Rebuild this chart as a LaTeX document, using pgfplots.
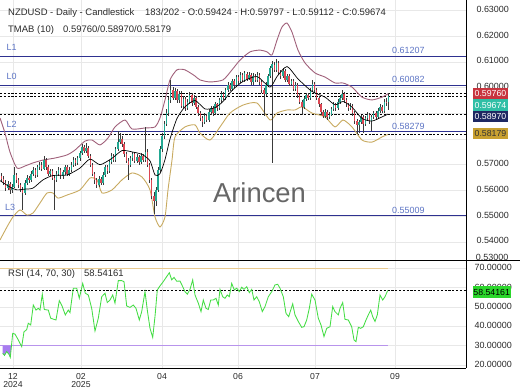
\documentclass[border=0pt]{standalone}
\usepackage{pgfplots}
\pgfplotsset{compat=1.18}
\usepackage{pgfplotstable}
\usepackage{fontspec}
\setmainfont{Liberation Sans}
\definecolor{upc}{HTML}{22A892}
\definecolor{dnc}{HTML}{DC4652}
\definecolor{wick}{HTML}{3A3A3A}
\definecolor{upband}{HTML}{A0607A}
\definecolor{loband}{HTML}{C8AA60}
\definecolor{lvl}{HTML}{2E3190}
\definecolor{lvltxt}{HTML}{5B73C4}
\definecolor{gridc}{HTML}{E8E8E8}
\definecolor{txt}{HTML}{2A2A2A}
\definecolor{boxred}{HTML}{C8343E}
\definecolor{boxteal}{HTML}{30BFA6}
\definecolor{boxnavy}{HTML}{1E2862}
\definecolor{boxgold}{HTML}{C8A030}
\definecolor{rsig}{HTML}{44DD44}
\definecolor{rsibox}{HTML}{2BD62B}
\definecolor{ob}{HTML}{EACB90}
\definecolor{os}{HTML}{B894EC}
\definecolor{osfill}{HTML}{A77CF0}
\newcommand\fs[1]{\fontsize{#1}{#1}\selectfont}

\pgfplotstableread{
i o h l c
0 0.5655 0.5668 0.5632 0.5645
1 0.5645 0.5655 0.5620 0.5630
2 0.5630 0.5640 0.5598 0.5610
3 0.5610 0.5636 0.5600 0.5625
4 0.5625 0.5633 0.5588 0.5600
5 0.5600 0.5625 0.5590 0.5615
6 0.5615 0.5690 0.5608 0.5660
7 0.5660 0.5668 0.5630 0.5640
8 0.5640 0.5648 0.5610 0.5620
9 0.5620 0.5630 0.5595 0.5605
10 0.5605 0.5615 0.5525 0.5590
11 0.5590 0.5640 0.5582 0.5630
12 0.5630 0.5660 0.5622 0.5650
13 0.5650 0.5658 0.5630 0.5640
14 0.5640 0.5675 0.5632 0.5665
15 0.5665 0.5690 0.5655 0.5680
16 0.5680 0.5688 0.5650 0.5660
17 0.5660 0.5700 0.5652 0.5690
18 0.5690 0.5712 0.5680 0.5700
19 0.5700 0.5710 0.5675 0.5685
20 0.5685 0.5735 0.5678 0.5720
21 0.5720 0.5728 0.5680 0.5690
22 0.5690 0.5698 0.5655 0.5665
23 0.5665 0.5685 0.5655 0.5675
24 0.5675 0.5682 0.5640 0.5650
25 0.5650 0.5660 0.5525 0.5640
26 0.5640 0.5675 0.5632 0.5665
27 0.5665 0.5692 0.5655 0.5680
28 0.5680 0.5688 0.5645 0.5655
29 0.5655 0.5680 0.5645 0.5670
30 0.5670 0.5700 0.5660 0.5690
31 0.5690 0.5698 0.5655 0.5665
32 0.5665 0.5690 0.5655 0.5680
33 0.5680 0.5710 0.5672 0.5700
34 0.5700 0.5730 0.5692 0.5720
35 0.5720 0.5728 0.5695 0.5705
36 0.5705 0.5735 0.5698 0.5725
37 0.5725 0.5755 0.5715 0.5745
38 0.5745 0.5780 0.5738 0.5770
39 0.5770 0.5778 0.5745 0.5755
40 0.5755 0.5785 0.5745 0.5765
41 0.5765 0.5772 0.5725 0.5735
42 0.5735 0.5742 0.5690 0.5700
43 0.5700 0.5708 0.5655 0.5665
44 0.5665 0.5672 0.5625 0.5640
45 0.5640 0.5650 0.5608 0.5620
46 0.5620 0.5655 0.5612 0.5645
47 0.5645 0.5652 0.5620 0.5630
48 0.5630 0.5670 0.5622 0.5660
49 0.5660 0.5700 0.5652 0.5690
50 0.5690 0.5698 0.5665 0.5675
51 0.5675 0.5720 0.5668 0.5710
52 0.5710 0.5745 0.5702 0.5735
53 0.5735 0.5742 0.5710 0.5720
54 0.5720 0.5770 0.5712 0.5760
55 0.5760 0.5830 0.5752 0.5790
56 0.5790 0.5825 0.5780 0.5800
57 0.5800 0.5810 0.5770 0.5780
58 0.5780 0.5788 0.5730 0.5740
59 0.5740 0.5748 0.5705 0.5715
60 0.5715 0.5725 0.5640 0.5700
61 0.5700 0.5735 0.5692 0.5725
62 0.5725 0.5750 0.5715 0.5740
63 0.5740 0.5748 0.5705 0.5715
64 0.5715 0.5740 0.5705 0.5730
65 0.5730 0.5738 0.5700 0.5710
66 0.5710 0.5745 0.5702 0.5735
67 0.5735 0.5742 0.5710 0.5720
68 0.5720 0.5845 0.5712 0.5750
69 0.5750 0.5760 0.5690 0.5700
70 0.5700 0.5708 0.5630 0.5640
71 0.5640 0.5648 0.5565 0.5580
72 0.5580 0.5592 0.5510 0.5560
73 0.5560 0.5612 0.5540 0.5600
74 0.5600 0.5690 0.5592 0.5680
75 0.5680 0.5772 0.5672 0.5760
76 0.5760 0.5822 0.5750 0.5810
77 0.5810 0.5872 0.5800 0.5860
78 0.5860 0.5915 0.5850 0.5900
79 0.5900 0.5965 0.5890 0.5950
80 0.5950 0.6030 0.5942 0.5990
81 0.5990 0.6002 0.5950 0.5960
82 0.5960 0.5998 0.5950 0.5985
83 0.5985 0.5995 0.5940 0.5950
84 0.5950 0.5988 0.5942 0.5975
85 0.5975 0.5985 0.5920 0.5930
86 0.5930 0.5968 0.5922 0.5955
87 0.5955 0.5962 0.5908 0.5920
88 0.5920 0.5955 0.5912 0.5945
89 0.5945 0.5982 0.5938 0.5970
90 0.5970 0.5978 0.5930 0.5940
91 0.5940 0.5972 0.5932 0.5960
92 0.5960 0.5968 0.5915 0.5925
93 0.5925 0.5932 0.5890 0.5900
94 0.5900 0.5910 0.5870 0.5880
95 0.5880 0.5890 0.5845 0.5865
96 0.5865 0.5900 0.5858 0.5890
97 0.5890 0.5898 0.5865 0.5875
98 0.5875 0.5915 0.5868 0.5905
99 0.5905 0.5930 0.5895 0.5920
100 0.5920 0.5928 0.5890 0.5900
101 0.5900 0.5945 0.5892 0.5935
102 0.5935 0.5942 0.5910 0.5920
103 0.5920 0.5960 0.5912 0.5950
104 0.5950 0.5985 0.5942 0.5975
105 0.5975 0.5982 0.5950 0.5960
106 0.5960 0.6000 0.5952 0.5990
107 0.5990 0.6020 0.5982 0.6010
108 0.6010 0.6018 0.5985 0.5995
109 0.5995 0.6035 0.5988 0.6025
110 0.6025 0.6032 0.6000 0.6010
111 0.6010 0.6050 0.6002 0.6040
112 0.6040 0.6048 0.6015 0.6025
113 0.6025 0.6060 0.6018 0.6050
114 0.6050 0.6058 0.6020 0.6030
115 0.6030 0.6065 0.6022 0.6055
116 0.6055 0.6062 0.6025 0.6035
117 0.6035 0.6060 0.6028 0.6050
118 0.6050 0.6058 0.6010 0.6020
119 0.6020 0.6055 0.6012 0.6045
120 0.6045 0.6052 0.6020 0.6030
121 0.6030 0.6060 0.6022 0.6050
122 0.6050 0.6058 0.6010 0.6020
123 0.6020 0.6028 0.5980 0.5990
124 0.5990 0.5998 0.5890 0.5975
125 0.5975 0.6020 0.5968 0.6010
126 0.6010 0.6055 0.6002 0.6045
127 0.6045 0.6085 0.6038 0.6075
128 0.6075 0.6102 0.5705 0.6090
129 0.6090 0.6098 0.6060 0.6070
130 0.6070 0.6110 0.6062 0.6095
131 0.6095 0.6102 0.6050 0.6060
132 0.6060 0.6068 0.6035 0.6045
133 0.6045 0.6075 0.6038 0.6065
134 0.6065 0.6072 0.6020 0.6030
135 0.6030 0.6055 0.6022 0.6045
136 0.6045 0.6052 0.6005 0.6015
137 0.6015 0.6035 0.6008 0.6025
138 0.6025 0.6032 0.5985 0.5995
139 0.5995 0.6020 0.5988 0.6010
140 0.6010 0.6018 0.5960 0.5970
141 0.5970 0.5978 0.5935 0.5945
142 0.5945 0.5952 0.5895 0.5925
143 0.5925 0.5965 0.5918 0.5955
144 0.5955 0.5980 0.5948 0.5970
145 0.5970 0.5978 0.5950 0.5960
146 0.5960 0.6000 0.5952 0.5990
147 0.5990 0.6030 0.5982 0.6015
148 0.6015 0.6022 0.5980 0.5990
149 0.5990 0.5998 0.5950 0.5960
150 0.5960 0.5968 0.5925 0.5935
151 0.5935 0.5942 0.5895 0.5905
152 0.5905 0.5912 0.5880 0.5890
153 0.5890 0.5915 0.5882 0.5905
154 0.5905 0.5912 0.5875 0.5885
155 0.5885 0.5905 0.5878 0.5895
156 0.5895 0.5925 0.5888 0.5915
157 0.5915 0.5945 0.5908 0.5935
158 0.5935 0.5942 0.5910 0.5920
159 0.5920 0.5955 0.5912 0.5945
160 0.5945 0.5970 0.5938 0.5960
161 0.5960 0.5990 0.5952 0.5975
162 0.5975 0.5982 0.5940 0.5950
163 0.5950 0.5958 0.5925 0.5935
164 0.5935 0.5942 0.5910 0.5920
165 0.5920 0.5940 0.5912 0.5930
166 0.5930 0.5938 0.5890 0.5900
167 0.5900 0.5908 0.5860 0.5870
168 0.5870 0.5878 0.5820 0.5855
169 0.5855 0.5875 0.5825 0.5865
170 0.5865 0.5895 0.5858 0.5885
171 0.5885 0.5892 0.5822 0.5860
172 0.5860 0.5890 0.5852 0.5880
173 0.5880 0.5905 0.5872 0.5895
174 0.5895 0.5902 0.5860 0.5870
175 0.5870 0.5895 0.5830 0.5885
176 0.5885 0.5910 0.5878 0.5900
177 0.5900 0.5908 0.5875 0.5885
178 0.5885 0.5920 0.5878 0.5910
179 0.5910 0.5935 0.5902 0.5925
180 0.5925 0.5932 0.5900 0.5910
181 0.5910 0.5955 0.5902 0.5945
182 0.5945 0.5960 0.5930 0.5942
183 0.59424 0.59797 0.59112 0.59674
}\ohlc

\begin{document}
\begin{tikzpicture}
\path[use as bounding box] (0bp,0bp) rectangle (520bp,390bp);
% ---------------- main price panel
\begin{axis}[
  at={(0bp,129.3bp)}, anchor=south west,
  width=466bp, height=260.7bp, scale only axis,
  xmin=0, xmax=466, ymin=0.53265, ymax=0.63409,
  axis line style={draw=none}, tick style={draw=none},
  xtick={13,81,162,238,315,395}, xticklabels=\empty,
  ytick={0.54,0.55,0.56,0.57,0.58,0.59,0.60,0.61,0.62,0.63},
  yticklabels={0.54000,0.55000,0.56000,0.57000,{},{},0.60000,0.61000,0.62000,0.63000},
  yticklabel pos=right,
  yticklabel style={anchor=west, xshift=7bp, yshift=1bp, text=txt, font=\fs{9}},
  grid=major, major grid style={draw=gridc, line width=0.6bp},
]
% level lines
\addplot[lvl, line width=1bp, forget plot] coordinates {(0,0.61207) (466,0.61207)};
\addplot[lvl, line width=1bp, forget plot] coordinates {(0,0.60082) (466,0.60082)};
\addplot[lvl, line width=1bp, forget plot] coordinates {(0,0.58279) (466,0.58279)};
\addplot[lvl, line width=1bp, forget plot] coordinates {(0,0.55009) (466,0.55009)};
% dashed current levels
\addplot[black, line width=0.9bp, dash pattern=on 2.2bp off 1.6bp, forget plot] coordinates {(0,0.59760) (466,0.59760)};
\addplot[black, line width=0.9bp, dash pattern=on 2.2bp off 1.6bp, forget plot] coordinates {(0,0.59674) (466,0.59674)};
\addplot[black, line width=0.9bp, dash pattern=on 2.2bp off 1.6bp, forget plot] coordinates {(0,0.58970) (466,0.58970)};
\addplot[black, line width=0.9bp, dash pattern=on 2.2bp off 1.6bp, forget plot] coordinates {(0,0.58179) (466,0.58179)};
% bands
\addplot[upband, line width=0.9bp, smooth, tension=0.4] coordinates {
(0,0.5882) (5,0.5823) (10,0.5749) (17,0.5687) (25,0.5695) (33,0.5707) (43,0.5718) (55,0.5726) (67,0.5738) (75,0.5757) (85,0.5792) (92,0.5796) (100,0.5777) (108,0.5804) (115,0.5847) (125,0.5874) (132,0.5839) (145,0.5843) (155,0.5847) (160,0.5882) (165,0.5952) (170,0.6030) (177,0.6069) (185,0.6069) (195,0.6045) (200,0.6030) (210,0.6022) (223,0.6030) (232,0.6069) (240,0.6107) (250,0.6139) (260,0.6146) (267,0.6139) (272,0.6127) (277,0.6185) (282,0.6236) (287,0.6251) (292,0.6216) (298,0.6146) (305,0.6096) (315,0.6057) (325,0.6041) (335,0.6018) (343,0.6018) (352,0.6002) (362,0.5963) (372,0.5952) (382,0.5963) (388,0.5976)};
\addplot[loband, line width=0.9bp, smooth, tension=0.4] coordinates {
(0,0.5407) (7,0.5458) (13,0.5497) (20,0.5524) (27,0.5504) (33,0.5512) (40,0.5551) (47,0.5590) (53,0.5590) (58,0.5570) (67,0.5582) (80,0.5602) (90,0.5648) (97,0.5641) (102,0.5590) (112,0.5602) (122,0.5641) (132,0.5668) (142,0.5652) (150,0.5602) (155,0.5497) (160,0.5458) (165,0.5497) (168,0.5602) (172,0.5718) (175,0.5808) (185,0.5847) (195,0.5855) (200,0.5823) (210,0.5796) (220,0.5847) (230,0.5901) (243,0.5932) (257,0.5940) (270,0.5874) (277,0.5901) (287,0.5913) (295,0.5913) (302,0.5925) (312,0.5901) (325,0.5886) (335,0.5847) (343,0.5874) (352,0.5847) (362,0.5796) (372,0.5788) (382,0.5808) (388,0.5818)};
% wicks
\addplot[draw=none, mark=none, forget plot,
  error bars/.cd, y dir=both, y explicit, error mark=none,
  error bar style={line width=0.5bp, draw=wick, solid}]
  table[x expr=1.5+2.115*\thisrow{i}, y expr=(\thisrow{h}+\thisrow{l})/2,
        y error expr=(\thisrow{h}-\thisrow{l})/2] {\ohlc};
% up bodies
\addplot[draw=none, mark=none, forget plot,
  restrict expr to domain={\thisrow{c}-\thisrow{o}}{0:1},
  error bars/.cd, y dir=both, y explicit, error mark=none,
  error bar style={line width=1.5bp, draw=upc, solid}]
  table[x expr=1.5+2.115*\thisrow{i}, y expr=(\thisrow{o}+\thisrow{c})/2,
        y error expr={max(abs(\thisrow{c}-\thisrow{o})/2,0.00008)}] {\ohlc};
% down bodies
\addplot[draw=none, mark=none, forget plot,
  restrict expr to domain={\thisrow{o}-\thisrow{c}}{0.0000001:1},
  error bars/.cd, y dir=both, y explicit, error mark=none,
  error bar style={line width=1.5bp, draw=dnc, solid}]
  table[x expr=1.5+2.115*\thisrow{i}, y expr=(\thisrow{o}+\thisrow{c})/2,
        y error expr={max(abs(\thisrow{c}-\thisrow{o})/2,0.00008)}] {\ohlc};
% mid line
\addplot[black, line width=0.7bp, smooth, tension=0.4] coordinates {
(0,0.5638) (10,0.5613) (17,0.5602) (25,0.5605) (33,0.5609) (43,0.5641) (53,0.5658) (67,0.5660) (80,0.5687) (90,0.5722) (100,0.5700) (112,0.5725) (122,0.5755) (132,0.5750) (142,0.5740) (150,0.5715) (155,0.5660) (160,0.5665) (165,0.5720) (170,0.5800) (177,0.5880) (185,0.5925) (195,0.5950) (205,0.5917) (215,0.5922) (223,0.5946) (232,0.5989) (243,0.6024) (257,0.6043) (270,0.6002) (277,0.6043) (287,0.6082) (298,0.6034) (312,0.5985) (325,0.5963) (335,0.5933) (343,0.5946) (352,0.5924) (362,0.5880) (372,0.5870) (382,0.5886) (388,0.5897)};
% level labels
\node[anchor=base west, text=lvltxt, font=\fs{9}, inner sep=0, yshift=5.8bp] at (axis cs:6.5,0.61207) {L1};
\node[anchor=base west, text=lvltxt, font=\fs{9}, inner sep=0, yshift=5.8bp] at (axis cs:6.5,0.60082) {L0};
\node[anchor=base west, text=lvltxt, font=\fs{9}, inner sep=0, yshift=4.5bp] at (axis cs:6.5,0.58279) {L2};
\node[anchor=base west, text=lvltxt, font=\fs{9}, inner sep=0, yshift=5.8bp] at (axis cs:5,0.55009) {L3};
\node[anchor=base west, text=lvltxt, font=\fs{9}, inner sep=0, yshift=2.6bp] at (axis cs:392,0.61207) {0.61207};
\node[anchor=base west, text=lvltxt, font=\fs{9}, inner sep=0, yshift=2.6bp] at (axis cs:392,0.60082) {0.60082};
\node[anchor=base west, text=lvltxt, font=\fs{9}, inner sep=0, yshift=2.0bp] at (axis cs:392,0.58279) {0.58279};
\node[anchor=base west, text=lvltxt, font=\fs{9}, inner sep=0, yshift=2.6bp] at (axis cs:392,0.55009) {0.55009};
\end{axis}

% ---------------- RSI panel
\begin{axis}[
  at={(0bp,22bp)}, anchor=south west,
  width=466bp, height=107.3bp, scale only axis,
  xmin=0, xmax=466, ymin=18.5, ymax=73.9,
  axis line style={draw=none}, tick style={draw=none},
  xtick={13,81,162,238,315,395},
  xticklabels={{12\\2024},{02\\2025},{04},{06},{07},{09}},
  xticklabel style={align=center, text=txt, font=\fontsize{8.7}{8.3}\selectfont, yshift=-1.8bp},
  ytick={20,30,40,50,60,70},
  yticklabel pos=right,
  yticklabel style={anchor=west, xshift=5bp, yshift=0.5bp, text=txt, font=\fs{9},
    /pgf/number format/.cd, fixed, fixed zerofill, precision=5, assume math mode=true},
  grid=major, major grid style={draw=gridc, line width=0.6bp},
]
\addplot[ob, line width=1.3bp, forget plot] coordinates {(0,70) (388,70)};
\addplot[os, line width=1.1bp, forget plot] coordinates {(0,30) (388,30)};
\addplot[black, line width=0.9bp, dash pattern=on 2.2bp off 1.6bp, forget plot] coordinates {(0,58.54161) (466,58.54161)};
\addplot[fill=osfill, draw=none, forget plot] coordinates {(2.7,30) (2.7,26) (4.5,25) (6.7,27) (9,25.5) (10.3,24) (11.4,30) (2.7,30)};
\addplot[rsig, line width=0.85bp] coordinates {
(2.7,26) (4.5,25) (6.7,27) (9,25.5) (10.3,24) (12.7,36.4) (15,36) (18.3,33) (21.7,29.5) (24,37.2) (26.7,38.3) (28.3,41.6) (30.7,40.7) (33.3,51) (36,48.4) (38.3,49.3) (40,48.4) (42.3,56.6) (44.3,48.7) (48.3,48.4) (50.7,44.2) (54,43.6) (56,43.3) (59.3,53.3) (62,50.6) (65.3,45.9) (68.3,48.4) (70,47.1) (73.3,59.7) (76.7,59.7) (79.3,54.5) (82.7,62.2) (85.3,57.1) (88.3,56.2) (91.7,49.3) (95,37.6) (98.3,44.2) (101.7,55.3) (105,57.1) (107.3,52.3) (110,53.6) (112.7,56.2) (115,52) (118.3,63.6) (121.7,63.6) (124,63.1) (126.7,50.5) (130,49.8) (133.3,51) (136,49.3) (139.3,43.3) (141.7,47.6) (145,57.9) (147.3,48.4) (150,39) (152.7,34.3) (155,45.1) (157.3,58.8) (160,60.9) (163.3,63.1) (166.7,65.7) (169.3,67.7) (171.7,64) (174,65.3) (176.7,63.3) (180,63.4) (182.7,60.5) (185,57.9) (187.3,56.6) (190,59.1) (192.7,64) (195,56.2) (198.3,52) (201,47.6) (203.3,53.6) (206,49.3) (208.3,48.7) (210.7,53.6) (213.3,53.6) (216,54.5) (218.3,51) (220,59.1) (222.7,55.3) (225,54.5) (227.3,56.2) (229.3,55.3) (231.7,62.2) (234.3,58.8) (236.7,59.7) (239.3,57.9) (241.7,60.2) (244,59.1) (246.7,60.5) (249.3,57.4) (251.7,59.1) (254,53.6) (256.7,55.3) (259.3,52.7) (262.3,47.6) (265,50.2) (268.3,55.3) (271.7,57.9) (275,61.4) (277.7,61.7) (280,59.7) (283.3,55.3) (286,46.7) (288.7,45) (290.7,48.4) (292.7,51.6) (295,45.9) (298.3,42.5) (301.7,39.5) (304,39.8) (306.7,43.3) (309.3,49.3) (311.7,56.6) (315,53.6) (318.3,44.2) (321,40.7) (324,34.7) (326.7,39) (330,39.8) (332.7,50.2) (335,47.6) (338.3,45.9) (340,49.3) (342.7,52.3) (345,43.6) (348.3,43.3) (351.7,39.8) (354,33) (356,32.1) (358.3,39.5) (360.7,39) (363.3,39.8) (366,43.3) (368.3,45.9) (370.7,48.4) (372.7,45) (375,42.5) (377.3,45.9) (380,56.2) (382.7,53.6) (385,55.3) (387.7,58.54)};
\end{axis}

% ---------------- frame lines
\draw[line width=0.9bp, black] (0bp,129.3bp) -- (520bp,129.3bp);
\draw[line width=0.9bp, black] (466bp,390bp) -- (466bp,22bp);
\draw[line width=0.9bp, black] (0bp,22bp) -- (466bp,22bp);

% partially hidden 0.53000 label
\begin{scope}
\clip (467bp,129.8bp) rectangle (520bp,140bp);
\node[anchor=base west, inner sep=0, text=txt, font=\fs{9}] at (475.7bp,129bp) {0.53000};
\end{scope}

% value boxes
\node[fill=boxred, text=white, font=\fs{8.8}, minimum width=35.6bp, minimum height=11.5bp, inner sep=0] at (490.5bp,296.25bp) {0.59760};
\node[fill=boxteal, text=white, font=\fs{8.8}, minimum width=35.6bp, minimum height=11.5bp, inner sep=0] at (490.5bp,284.75bp) {0.59674};
\node[fill=boxnavy, text=white, font=\fs{8.8}, minimum width=35.6bp, minimum height=11.5bp, inner sep=0] at (490.5bp,273.25bp) {0.58970};
\node[fill=boxgold, text=black!80, font=\fs{8.8}, minimum width=35.6bp, minimum height=11.5bp, inner sep=0] at (490.5bp,256.25bp) {0.58179};
\node[fill=rsibox, text=black, font=\fs{8.8}, minimum width=38bp, minimum height=11.6bp, inner sep=0] at (491.7bp,98bp) {58.54161};

% headers
\node[anchor=base west, inner sep=0, text=txt, font=\fs{9.5}] at (8bp,374bp) {NZDUSD - Daily - Candlestick};
\node[anchor=base west, inner sep=0, text=txt, font=\fs{9.5}] at (145bp,374bp) {183/202 - O:0.59424 - H:0.59797 - L:0.59112 - C:0.59674};
\node[anchor=base west, inner sep=0, text=txt, font=\fs{9.5}] at (8bp,357.7bp) {TMAB (10)};
\node[anchor=base west, inner sep=0, text=txt, font=\fs{9.5}] at (63bp,357.7bp) {0.59760/0.58970/0.58179};
\node[anchor=base west, inner sep=0, text=txt, font=\fs{9.5}] at (8bp,113.3bp) {RSI (14, 70, 30)};
\node[anchor=base west, inner sep=0, text=txt, font=\fs{9.5}] at (84bp,113.3bp) {58.54161};

% watermark
\node[text=black!60, font=\fs{27.5}, inner sep=0] at (259.5bp,197.5bp) {Arincen};
\end{tikzpicture}
\end{document}
